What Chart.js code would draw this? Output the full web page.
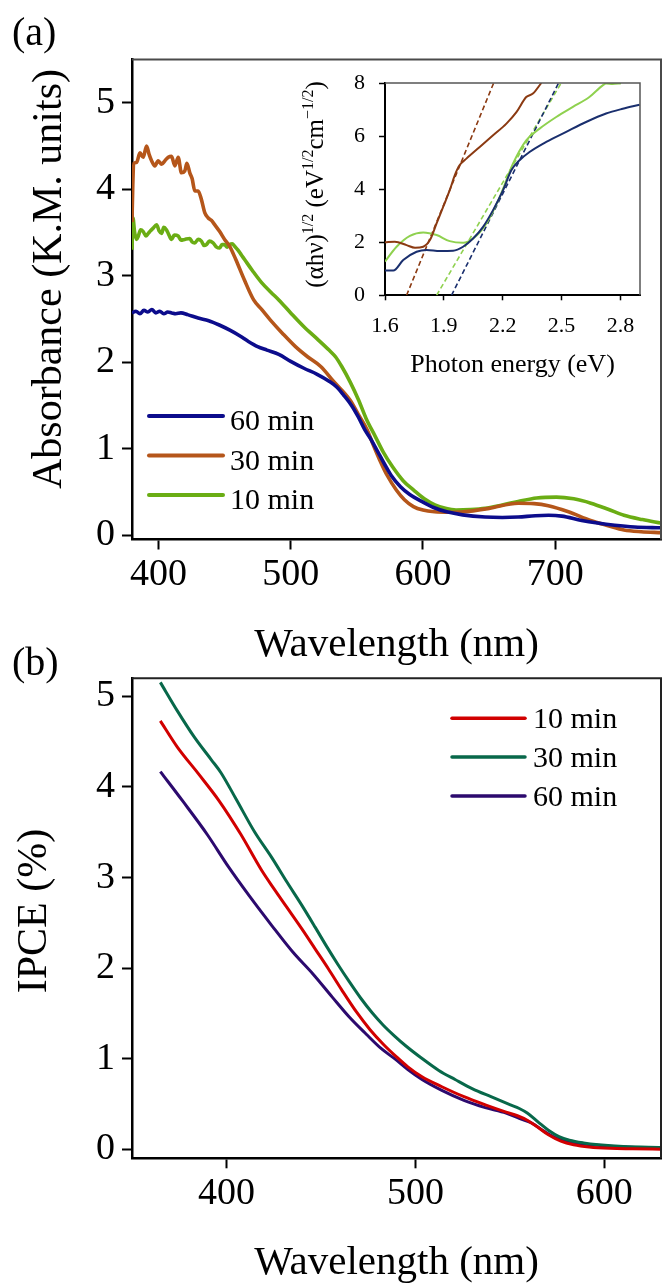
<!DOCTYPE html>
<html>
<head>
<meta charset="utf-8">
<script src="https://cdn.jsdelivr.net/npm/chart.js@4.4.1/dist/chart.umd.min.js"></script>
<style>
  html, body { margin: 0; padding: 0; background: #fff; }
  #page { position: relative; width: 663px; height: 1288px; overflow: hidden; background: #fff; }
  #page canvas { position: absolute; }
</style>
</head>
<body>
<div id="page">
  <canvas id="absChart" width="663" height="680" style="left:0;top:0;width:663px;height:680px"></canvas>
  <canvas id="ipceChart" width="663" height="648" style="left:0;top:640px;width:663px;height:648px"></canvas>
  <canvas id="taucChart" width="373" height="340" style="left:290px;top:50px;width:373px;height:340px"></canvas>
</div>
<script>
const serif = '"Liberation Serif", "Times New Roman", serif';

// ---- (a) Kubelka-Munk absorbance ----
const absTicksX = [400, 500, 600, 700];
const absTicksY = [0, 1, 2, 3, 4, 5];

const wl60 = [380, 383, 386, 389, 392, 395, 398, 401, 404, 407, 410, 413, 417, 422, 430, 438, 446, 454, 462, 468,
  475, 482, 491, 500, 510, 520, 529, 535, 540, 546, 551, 556, 561, 566, 571, 576, 583, 590, 599, 608,
  618, 630, 647, 660, 672, 685, 695, 705, 720, 732, 745, 760, 780];
const abs60 = [2.57, 2.59, 2.56, 2.60, 2.58, 2.61, 2.57, 2.59, 2.56, 2.58, 2.57, 2.56, 2.57, 2.55, 2.51, 2.48, 2.43, 2.37, 2.30, 2.24,
  2.18, 2.14, 2.09, 2.01, 1.93, 1.86, 1.78, 1.71, 1.62, 1.50, 1.37, 1.22, 1.10, 0.96, 0.82, 0.69, 0.56, 0.47, 0.39, 0.32,
  0.27, 0.235, 0.21, 0.205, 0.21, 0.225, 0.23, 0.22, 0.17, 0.14, 0.115, 0.095, 0.085];

const wl30 = [380, 380.6, 381.5, 383.5, 386, 388.5, 391, 393, 394.8, 397.3, 399.8, 402.4, 404.9, 407.4, 409.9, 412.4, 414.9, 417.4, 419.9, 421.5,
  423.7, 425.5, 427.5, 430, 432.5, 435, 437.5, 440, 442.5, 446.3, 450, 453.9, 458.4, 465, 472, 478, 484.5, 494, 503.6, 513,
  522.7, 532.3, 545, 551, 557.8, 562, 567.3, 573, 580, 586, 592.8, 600, 608.7, 620, 631, 650, 672, 684, 694.8, 710,
  726.7, 740, 752, 765, 780];
const abs30 = [3.62, 4.05, 4.30, 4.31, 4.42, 4.37, 4.50, 4.40, 4.33, 4.27, 4.33, 4.29, 4.33, 4.37, 4.38, 4.27, 4.37, 4.19, 4.21, 4.30,
  4.19, 4.12, 3.98, 3.98, 3.88, 3.73, 3.67, 3.64, 3.59, 3.51, 3.42, 3.34, 3.19, 2.95, 2.72, 2.61, 2.49, 2.33, 2.18, 2.06,
  1.95, 1.78, 1.56, 1.40, 1.22, 1.06, 0.87, 0.69, 0.52, 0.41, 0.33, 0.29, 0.27, 0.265, 0.27, 0.31, 0.37, 0.365, 0.34, 0.27,
  0.17, 0.11, 0.06, 0.04, 0.03];

const wl10 = [380, 380.7, 382, 383.5, 384.8, 386.5, 388.5, 390.5, 392.3, 394, 396, 398.6, 400.5, 402.4, 404, 406.1, 408, 409.9, 412, 414.9,
  417, 419.9, 423.7, 425.5, 427.5, 430, 432.5, 434.5, 436.3, 438.5, 441.3, 444, 446.3, 448, 450, 452, 453.9, 455.8, 457.6, 460,
  462.7, 465, 471, 478, 485, 491, 500, 510, 520, 529, 534, 538.6, 545, 551.4, 557, 564, 570, 577, 585, 593,
  601, 609, 617, 625, 636, 647, 660, 672, 686, 701, 714, 727, 740, 752, 766, 780];
const abs10 = [3.30, 3.67, 3.50, 3.42, 3.46, 3.53, 3.51, 3.46, 3.49, 3.52, 3.55, 3.59, 3.52, 3.49, 3.56, 3.53, 3.47, 3.42, 3.47, 3.46,
  3.41, 3.42, 3.43, 3.39, 3.38, 3.42, 3.40, 3.35, 3.36, 3.40, 3.38, 3.33, 3.32, 3.36, 3.36, 3.33, 3.36, 3.37, 3.34, 3.30,
  3.24, 3.19, 3.06, 2.92, 2.81, 2.72, 2.57, 2.41, 2.27, 2.14, 2.06, 1.95, 1.77, 1.56, 1.35, 1.14, 0.96, 0.79, 0.63, 0.52,
  0.42, 0.35, 0.31, 0.29, 0.295, 0.31, 0.35, 0.39, 0.43, 0.44, 0.42, 0.37, 0.30, 0.23, 0.18, 0.14];

// ---- inset: Tauc plot ----
const tTicksX = [1.6, 1.9, 2.2, 2.5, 2.8];
const tTicksY = [0, 2, 4, 6, 8];

const ev60 = [1.6, 1.642, 1.693, 1.761, 1.812, 1.88, 1.947, 1.998, 2.049, 2.1, 2.151, 2.202, 2.244, 2.286, 2.337, 2.422, 2.524, 2.625, 2.727, 2.812, 2.898];
const tauc60 = [0.93, 0.93, 1.33, 1.64, 1.71, 1.67, 1.68, 1.83, 2.14, 2.58, 3.21, 3.96, 4.71, 5.09, 5.40, 5.78, 6.16, 6.53, 6.85, 7.03, 7.18];
const ev30 = [1.6, 1.65, 1.71, 1.753, 1.795, 1.829, 1.863, 1.897, 1.93, 1.956, 1.98, 2.015, 2.083, 2.151, 2.219, 2.27, 2.32, 2.354, 2.397];
const tauc30 = [2.0, 2.02, 1.89, 1.79, 1.83, 2.08, 2.71, 3.34, 3.96, 4.53, 4.90, 5.15, 5.59, 6.03, 6.47, 6.90, 7.47, 7.60, 8.0];
const ev10 = [1.6, 1.659, 1.727, 1.795, 1.863, 1.93, 1.998, 2.049, 2.117, 2.185, 2.253, 2.32, 2.388, 2.473, 2.558, 2.642, 2.71, 2.727, 2.76, 2.803];
const tauc10 = [1.27, 1.83, 2.24, 2.37, 2.27, 2.04, 1.98, 2.14, 2.71, 3.71, 4.97, 5.84, 6.28, 6.72, 7.10, 7.47, 7.91, 7.98, 7.96, 7.99];
// linear extrapolations to the energy axis (dashed)
const fit60 = { ev: [1.939, 2.485], y: [0, 8] };
const fit30 = { ev: [1.71, 2.154], y: [0, 8] };
const fit10 = { ev: [1.863, 2.498], y: [0, 8] };

// ---- (b) IPCE ----
const ipTicksX = [400, 500, 600];
const ipTicksY = [0, 1, 2, 3, 4, 5];

const ipWl10 = [365, 374, 385, 396, 407.5, 418.6, 425, 432, 440, 447, 454, 461, 469, 476, 483, 490, 496, 503.5,
  514, 525.7, 537, 548, 554, 559.2, 565, 570.4, 577, 583.8, 592, 603, 615, 630];
const ipce10 = [4.73, 4.44, 4.15, 3.85, 3.48, 3.08, 2.88, 2.67, 2.43, 2.21, 1.99, 1.76, 1.51, 1.32, 1.16, 1.02, 0.91, 0.80,
  0.69, 0.58, 0.49, 0.41, 0.37, 0.32, 0.24, 0.16, 0.09, 0.05, 0.025, 0.01, 0.005, 0.0];
const ipWl30 = [365, 374, 383, 392, 397, 405, 415, 424, 432, 440, 447, 453, 459, 465, 471, 477, 483, 489, 495, 503,
  512.4, 521, 530, 540, 550.3, 555, 559.2, 565, 570.4, 576, 581.5, 589, 597, 610, 630];
const ipce30 = [5.155, 4.84, 4.55, 4.30, 4.16, 3.87, 3.50, 3.22, 2.95, 2.69, 2.45, 2.24, 2.04, 1.85, 1.67, 1.51, 1.37, 1.25, 1.14, 1.01,
  0.87, 0.77, 0.67, 0.58, 0.49, 0.45, 0.40, 0.30, 0.21, 0.14, 0.10, 0.07, 0.05, 0.03, 0.02];
const ipWl60 = [365, 377, 390, 401, 412, 424, 435, 446, 456, 465, 474, 482, 489, 496, 503.5, 514, 525.7, 537, 548,
  555, 561.5, 568, 574.8, 583, 592.7, 605, 630];
const ipce60 = [4.17, 3.84, 3.47, 3.12, 2.80, 2.47, 2.18, 1.93, 1.68, 1.46, 1.27, 1.11, 1.00, 0.88, 0.77, 0.65, 0.54, 0.46, 0.40,
  0.34, 0.29, 0.20, 0.12, 0.07, 0.05, 0.03, 0.01];

const pts = (xs, ys) => xs.map((x, i) => ({ x: x, y: ys[i] }));

// top and right edges of the frame
const frameBox = {
  id: 'frameBox',
  afterDatasetsDraw(chart, args, o) {
    const { ctx, chartArea: a } = chart;
    ctx.save();
    ctx.strokeStyle = o.color || '#444';
    ctx.lineWidth = o.width || 2;
    ctx.beginPath();
    ctx.moveTo(a.left, a.top);
    ctx.lineTo(a.right, a.top);
    ctx.lineTo(a.right, a.bottom);
    ctx.stroke();
    ctx.restore();
  }
};

// legend: short line + label, one row per dataset
const lineLegend = {
  id: 'lineLegend',
  afterDraw(chart, args, o) {
    if (o.x === undefined) return;
    const ctx = chart.ctx;
    ctx.save();
    ctx.font = o.size + 'px ' + serif;
    ctx.textBaseline = 'alphabetic';
    chart.data.datasets.forEach((ds, i) => {
      const y = o.y + i * o.gap;
      ctx.strokeStyle = ds.borderColor;
      ctx.lineWidth = o.lineWidth;
      ctx.lineCap = 'round';
      ctx.beginPath();
      ctx.moveTo(o.x, y);
      ctx.lineTo(o.x + o.len, y);
      ctx.stroke();
      ctx.fillStyle = '#000';
      ctx.fillText(ds.label, o.x + o.len + o.textGap, y + o.textDy);
    });
    ctx.restore();
  }
};

// free text (axis titles with superscripts, panel tags)
const richText = {
  id: 'richText',
  afterDraw(chart, args, o) {
    const ctx = chart.ctx;
    (o.items || []).forEach(it => {
      const parts = it.parts.map(p => (typeof p === 'string' ? { t: p } : p));
      ctx.save();
      ctx.fillStyle = '#000';
      ctx.textBaseline = 'alphabetic';
      let w = 0;
      parts.forEach(p => {
        ctx.font = (p.sup ? it.supSize : it.size) + 'px ' + serif;
        p.w = ctx.measureText(p.t).width;
        w += p.w;
      });
      ctx.translate(it.x, it.y);
      if (it.rotate) ctx.rotate(-Math.PI / 2);
      let x = it.align === 'left' ? 0 : -w / 2;
      parts.forEach(p => {
        ctx.font = (p.sup ? it.supSize : it.size) + 'px ' + serif;
        ctx.fillText(p.t, x, p.sup ? -it.rise : 0);
        x += p.w;
      });
      ctx.restore();
    });
  }
};

function axis(min, max, ticks, o) {
  return {
    type: 'linear',
    min: min,
    max: max,
    afterBuildTicks: s => { s.ticks = ticks.map(v => ({ value: v })); },
    afterFit: s => { if (o.w !== undefined) s.width = o.w; if (o.h !== undefined) s.height = o.h; },
    grid: { display: true, drawOnChartArea: false, drawTicks: true, tickLength: o.tickLen, tickWidth: o.tickWidth, tickColor: '#000' },
    border: { display: true, color: '#000', width: o.border },
    ticks: {
      color: '#000', autoSkip: false, maxRotation: 0, padding: o.pad,
      font: { family: serif, size: o.size },
      callback: o.fmt || (v => String(v))
    },
    title: o.title
      ? { display: true, text: o.title, color: '#000', padding: 0, font: { family: serif, size: o.titleSize, lineHeight: 1.2 } }
      : { display: false }
  };
}

function line(label, xs, ys, color, width, dash) {
  return {
    label: label,
    data: pts(xs, ys),
    borderColor: color,
    borderWidth: width,
    borderDash: dash || [],
    pointRadius: 0,
    fill: false,
    cubicInterpolationMode: 'monotone'
  };
}

const baseOpts = {
  responsive: false,
  animation: false,
  events: [],
  plugins: { legend: { display: false }, tooltip: { enabled: false } }
};

// (a) main panel
new Chart(document.getElementById('absChart'), {
  type: 'line',
  data: {
    datasets: [
      line('60 min', wl60, abs60, '#0c0c8c', 3.6),
      line('30 min', wl30, abs30, '#b5561a', 3.6),
      line('10 min', wl10, abs10, '#6aad14', 3.6)
    ]
  },
  options: Object.assign({}, baseOpts, {
    layout: { padding: { left: 0, top: 59.5, right: 2, bottom: 10.5 } },
    scales: {
      x: axis(380, 780, absTicksX, { h: 130, tickLen: 10, tickWidth: 2, border: 2.5, pad: 3, size: 38, title: 'Wavelength (nm)', titleSize: 41 }),
      y: axis(-0.05, 5.5, absTicksY, { w: 132, tickLen: 10, tickWidth: 2, border: 2.5, pad: 7, size: 38 })
    },
    plugins: Object.assign({}, baseOpts.plugins, {
      frameBox: { color: '#4a4a4a', width: 2 },
      lineLegend: { x: 149, y: 416, gap: 39.5, len: 74, textGap: 7, textDy: 14, size: 30, lineWidth: 4 },
      richText: { items: [
        { parts: ['Absorbance (K.M. units)'], size: 42, x: 61, y: 279, rotate: true },
        { parts: ['(a)'], size: 40, x: 12, y: 45, align: 'left' }
      ] }
    })
  }),
  plugins: [frameBox, lineLegend, richText]
});

// (a) inset
new Chart(document.getElementById('taucChart'), {
  type: 'line',
  data: {
    datasets: [
      line('60 min', ev60, tauc60, '#1a2f6e', 2),
      line('30 min', ev30, tauc30, '#8b3a12', 2),
      line('10 min', ev10, tauc10, '#8fd14f', 2),
      line('60 min fit', fit60.ev, fit60.y, '#1a2f6e', 1.6, [5, 3]),
      line('30 min fit', fit30.ev, fit30.y, '#8b3a12', 1.6, [5, 3]),
      line('10 min fit', fit10.ev, fit10.y, '#8fd14f', 1.6, [5, 3])
    ]
  },
  options: Object.assign({}, baseOpts, {
    layout: { padding: { left: 0, top: 33, right: 23, bottom: 9.4 } },
    scales: {
      x: axis(1.6, 2.9, tTicksX, { h: 85.3, tickLen: 5, tickWidth: 1.5, border: 2, pad: 12.4, size: 22, fmt: v => v.toFixed(1), title: 'Photon energy (eV)', titleSize: 26 }),
      y: axis(0, 8, tTicksY, { w: 95, tickLen: 6, tickWidth: 1.5, border: 2, pad: 14, size: 22 })
    },
    plugins: Object.assign({}, baseOpts.plugins, {
      frameBox: { color: '#555', width: 1.5 },
      richText: { items: [
        { parts: ['(\u03b1h\u03bd)', { t: '1/2', sup: true }, ' (eV', { t: '1/2', sup: true }, 'cm', { t: '\u22121/2', sup: true }, ')'],
          size: 25, supSize: 16, rise: 9.5, x: 32.7, y: 134.5, rotate: true }
      ] }
    })
  }),
  plugins: [frameBox, richText]
});

// (b) IPCE panel
new Chart(document.getElementById('ipceChart'), {
  type: 'line',
  data: {
    datasets: [
      line('10 min', ipWl10, ipce10, '#d10000', 3),
      line('30 min', ipWl30, ipce30, '#08684a', 3),
      line('60 min', ipWl60, ipce60, '#2c0a6e', 3)
    ]
  },
  options: Object.assign({}, baseOpts, {
    layout: { padding: { left: 0, top: 38.3, right: 2, bottom: 0 } },
    scales: {
      x: axis(350, 630, ipTicksX, { h: 129.7, tickLen: 10, tickWidth: 2, border: 2.5, pad: 3, size: 38, title: 'Wavelength (nm)', titleSize: 41 }),
      y: axis(-0.1, 5.2, ipTicksY, { w: 132, tickLen: 10, tickWidth: 2, border: 2.5, pad: 7, size: 38 })
    },
    plugins: Object.assign({}, baseOpts.plugins, {
      frameBox: { color: '#222', width: 2 },
      lineLegend: { x: 452, y: 78.3, gap: 38.8, len: 73, textGap: 8, textDy: 10, size: 30, lineWidth: 3.5 },
      richText: { items: [
        { parts: ['IPCE (%)'], size: 42, x: 46, y: 271, rotate: true },
        { parts: ['(b)'], size: 40, x: 12, y: 35, align: 'left' }
      ] }
    })
  }),
  plugins: [frameBox, lineLegend, richText]
});
</script>
</body>
</html>
